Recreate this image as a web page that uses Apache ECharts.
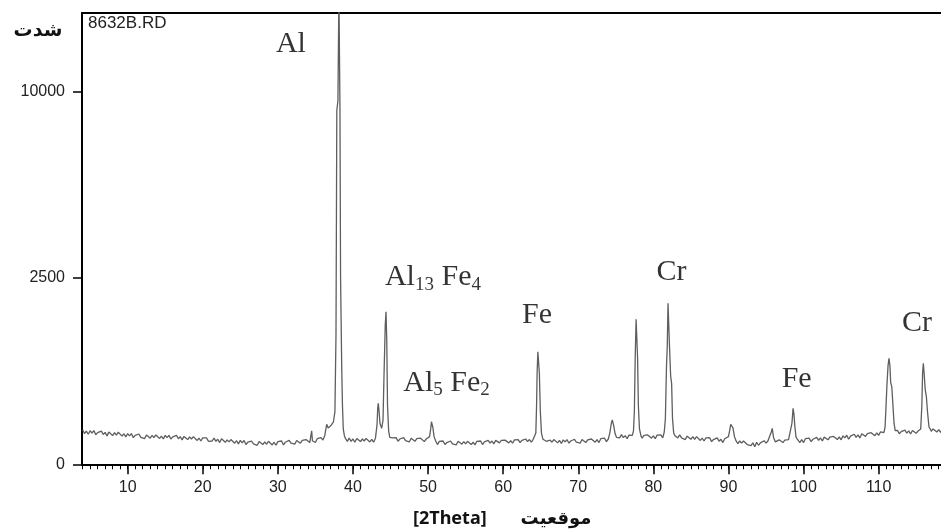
<!DOCTYPE html>
<html>
<head>
<meta charset="utf-8">
<script src="https://cdn.jsdelivr.net/npm/echarts@6/dist/echarts.min.js"></script>
<style>
html,body{margin:0;padding:0;background:#fff;}
#chart{width:941px;height:531px;}
</style>
</head>
<body>
<div id="chart"></div>
<script>
// XRD scan: [2Theta (deg), intensity (counts)]
const scan = [
[4.00,86],[4.25,68],[4.50,79],[4.75,65],[5.00,81],[5.25,70],[5.50,82],[5.75,63],
[6.00,72],[6.25,64],[6.50,79],[6.75,64],[7.00,73],[7.25,58],[7.50,75],[7.75,67],
[8.00,59],[8.25,72],[8.50,61],[8.75,74],[9.00,73],[9.25,57],[9.50,67],[9.75,54],
[10.00,68],[10.25,58],[10.50,68],[10.75,51],[11.00,60],[11.25,52],[11.50,66],[11.75,52],
[12.00,59],[12.25,47],[12.50,62],[12.75,55],[13.00,49],[13.25,60],[13.50,51],[13.75,62],
[14.00,62],[14.25,48],[14.50,57],[14.75,46],[15.00,60],[15.25,51],[15.50,60],[15.75,46],
[16.00,54],[16.25,47],[16.50,60],[16.75,47],[17.00,55],[17.25,43],[17.50,56],[17.75,50],
[18.00,44],[18.25,54],[18.50,46],[18.75,55],[19.00,54],[19.25,41],[19.50,49],[19.75,39],
[20.00,50],[20.25,43],[20.50,50],[20.75,38],[21.00,44],[21.25,39],[21.50,49],[21.75,38],
[22.00,45],[22.25,34],[22.50,47],[22.75,40],[23.00,35],[23.25,43],[23.50,36],[23.75,44],
[24.00,44],[24.25,32],[24.50,40],[24.75,30],[25.00,41],[25.25,33],[25.50,41],[25.75,28],
[26.00,35],[26.25,30],[26.50,39],[26.75,30],[27.00,36],[27.25,26],[27.50,37],[27.75,32],
[28.00,28],[28.25,36],[28.50,29],[28.75,38],[29.00,38],[29.25,27],[29.50,35],[29.75,26],
[30.00,37],[30.25,31],[30.50,39],[30.75,27],[31.00,35],[31.25,30],[31.50,41],[31.75,32],
[32.00,38],[32.25,29],[32.50,41],[32.75,36],[33.00,32],[33.25,41],[33.50,35],[33.75,44],
[34.00,46],[34.25,34],[34.50,81],[34.60,40],[34.75,43],[35.00,34],[35.25,47],[35.50,41],
[35.75,51],[36.00,42],[36.25,60],[36.50,115],[36.70,95],[36.85,85],[37.10,110],[37.40,130],
[37.60,200],[37.74,1200],[37.85,9000],[38.00,9500],[38.13,16000],[38.20,16000],[38.27,9000],[38.35,2500],
[38.50,700],[38.60,250],[38.71,90],[38.85,60],[39.00,48],[39.25,38],[39.50,49],[39.75,38],
[40.00,46],[40.25,35],[40.50,48],[40.75,42],[41.00,37],[41.25,46],[41.50,39],[41.75,48],
[42.00,49],[42.25,36],[42.50,45],[42.75,35],[43.00,50],[43.20,110],[43.30,230],[43.37,267],
[43.45,220],[43.60,120],[43.82,93],[44.00,140],[44.13,552],[44.30,1400],[44.40,1673],[44.50,1100],
[44.60,250],[44.75,80],[44.90,52],[45.00,48],[45.25,50],[45.50,43],[45.75,51],[46.00,38],
[46.25,46],[46.50,40],[46.75,51],[47.00,40],[47.25,47],[47.50,36],[47.75,49],[48.00,43],
[48.25,38],[48.50,47],[48.75,40],[49.00,49],[49.25,50],[49.50,37],[49.75,46],[50.00,46],
[50.20,55],[50.35,90],[50.45,130],[50.52,141],[50.65,95],[50.80,55],[51.00,40],[51.25,28],
[51.50,38],[51.75,32],[52.00,39],[52.25,28],[52.50,34],[52.75,29],[53.00,39],[53.25,30],
[53.50,36],[53.75,27],[54.00,38],[54.25,33],[54.50,29],[54.75,37],[55.00,30],[55.25,38],
[55.50,39],[55.75,28],[56.00,35],[56.25,27],[56.50,38],[56.75,32],[57.00,39],[57.25,28],
[57.50,36],[57.75,31],[58.00,41],[58.25,32],[58.50,39],[58.75,30],[59.00,41],[59.25,36],
[59.50,33],[59.75,41],[60.00,35],[60.25,42],[60.50,44],[60.75,33],[61.00,40],[61.25,32],
[61.50,43],[61.75,37],[62.00,44],[62.25,34],[62.50,41],[62.75,36],[63.00,46],[63.25,37],
[63.50,44],[63.75,35],[64.00,45],[64.20,48],[64.35,70],[64.45,250],[64.52,595],[64.62,911],
[64.72,911],[64.82,595],[64.95,200],[65.10,70],[65.30,45],[65.50,43],[65.75,38],[66.00,33],
[66.25,42],[66.50,35],[66.75,44],[67.00,45],[67.25,33],[67.50,41],[67.75,31],[68.00,43],
[68.25,36],[68.50,44],[68.75,32],[69.00,39],[69.25,34],[69.50,45],[69.75,35],[70.00,41],
[70.25,32],[70.50,44],[70.75,39],[71.00,34],[71.25,43],[71.50,37],[71.75,46],[72.00,47],
[72.25,35],[72.50,44],[72.75,34],[73.00,47],[73.25,40],[73.50,49],[73.75,37],[74.00,46],
[74.20,70],[74.40,120],[74.53,141],[74.70,112],[74.90,68],[75.10,52],[75.25,57],[75.50,50],
[75.75,63],[76.00,51],[76.25,59],[76.50,47],[76.75,61],[77.00,55],[77.20,60],[77.35,80],
[77.47,200],[77.58,807],[77.70,1511],[77.80,1511],[77.90,807],[78.00,250],[78.15,90],[78.35,58],
[78.50,49],[78.75,60],[79.00,52],[79.25,62],[79.50,63],[79.75,49],[80.00,58],[80.25,47],
[80.50,61],[80.75,53],[81.00,62],[81.25,50],[81.45,75],[81.60,150],[81.75,700],[81.85,994],
[81.95,1863],[82.05,1863],[82.15,994],[82.30,560],[82.43,471],[82.55,150],[82.70,72],[82.85,60],
[83.00,57],[83.25,50],[83.50,62],[83.75,50],[84.00,56],[84.25,44],[84.50,57],[84.75,51],
[85.00,45],[85.25,55],[85.50,45],[85.75,55],[86.00,55],[86.25,41],[86.50,49],[86.75,39],
[87.00,50],[87.25,43],[87.50,51],[87.75,37],[88.00,44],[88.25,38],[88.50,50],[88.75,38],
[89.00,45],[89.25,34],[89.50,47],[89.75,45],[90.00,55],[90.15,80],[90.30,115],[90.42,121],
[90.60,95],[90.80,55],[91.00,40],[91.25,31],[91.50,39],[91.75,32],[92.00,39],[92.25,39],
[92.50,28],[92.75,33],[93.00,25],[93.25,33],[93.50,22],[93.75,35],[94.00,26],[94.25,33],
[94.50,29],[94.75,40],[95.00,32],[95.25,39],[95.50,40],[95.70,75],[95.83,93],[96.00,52],
[96.25,36],[96.50,32],[96.75,43],[97.00,38],[97.25,34],[97.50,42],[97.75,36],[98.00,44],
[98.25,48],[98.45,120],[98.60,225],[98.70,190],[98.85,100],[99.00,52],[99.25,47],[99.50,34],
[99.75,44],[100.00,34],[100.25,47],[100.50,40],[100.75,49],[101.00,37],[101.25,45],[101.50,40],
[101.75,52],[102.00,41],[102.25,50],[102.50,39],[102.75,53],[103.00,47],[103.25,43],[103.50,53],
[103.75,46],[104.00,56],[104.25,58],[104.50,44],[104.75,54],[105.00,43],[105.25,58],[105.50,50],
[105.75,61],[106.00,45],[106.25,57],[106.50,50],[106.75,65],[107.00,52],[107.25,62],[107.50,50],
[107.75,67],[108.00,61],[108.25,56],[108.50,68],[108.75,61],[109.00,72],[109.25,75],[109.50,59],
[109.75,71],[110.00,60],[110.25,76],[110.50,68],[110.70,72],[110.85,100],[110.95,200],[111.10,450],
[111.25,700],[111.37,807],[111.50,700],[111.60,480],[111.75,430],[111.90,250],[112.05,120],[112.20,82],
[112.50,83],[112.75,67],[113.00,77],[113.25,70],[113.50,84],[113.75,70],[114.00,80],[114.25,66],
[114.50,82],[114.75,75],[115.00,69],[115.25,80],[115.45,76],[115.60,90],[115.75,250],[115.85,600],
[115.95,733],[116.05,600],[116.20,400],[116.35,330],[116.50,200],[116.70,100],[116.90,88],[117.00,78],
[117.25,90],[117.50,91],[117.75,75],[118.00,86],[118.25,73],[118.50,88]
];

// phase labels: position in [2Theta, counts] and text
const phasePos = [[31.74,12700],[50.65,2508],[52.45,475],[64.50,1608],[82.41,2658],[99.08,517],[115.10,1429]];
const phaseText = ['{n|Al}','{n|Al}{s|13}{n| Fe}{s|4}','{n|Al}{s|5}{n| Fe}{s|2}','{n|Fe}','{n|Cr}','{n|Fe}','{n|Cr}'];

const xMajorTicks = [10,20,30,40,50,60,70,80,90,100,110];
const yTickLabels = [0,2500,10000];

const xMin = 3.92, xMax = 118.3;
const minorTicks = [];
for (let d = 4; d <= 118; d++) minorTicks.push(d);

const sq = v => Math.sqrt(v);

const chart = echarts.init(document.getElementById('chart'), null, {renderer:'canvas'});
chart.setOption({
  animation:false,
  backgroundColor:'#fff',
  grid:{left:82, top:13, right:0, bottom:66.7, show:false},
  xAxis:[
    {type:'value', min:xMin, max:xMax, position:'bottom',
     axisLine:{show:true, lineStyle:{color:'#000', width:2}},
     axisTick:{show:true, customValues:xMajorTicks, length:10, lineStyle:{color:'#000', width:1.5}},
     axisLabel:{show:true, customValues:xMajorTicks, margin:15, color:'#222', fontFamily:'Liberation Sans, Arial', fontSize:16},
     splitLine:{show:false}},
    {type:'value', min:xMin, max:xMax, position:'bottom',
     axisLine:{show:false},
     axisTick:{show:true, customValues:minorTicks, length:5, lineStyle:{color:'#000', width:1}},
     axisLabel:{show:false}, splitLine:{show:false}},
    {type:'value', min:xMin, max:xMax, position:'top',
     axisLine:{show:true, lineStyle:{color:'#000', width:2}},
     axisTick:{show:false}, axisLabel:{show:false}, splitLine:{show:false}}
  ],
  yAxis:{type:'value', min:0, max:121,
    axisLine:{show:true, lineStyle:{color:'#000', width:2}},
    axisTick:{show:true, customValues:yTickLabels.map(sq), length:9, lineStyle:{color:'#000', width:1.5}},
    axisLabel:{show:true, customValues:yTickLabels.map(sq), margin:17, color:'#222', fontFamily:'Liberation Sans, Arial', fontSize:16,
      formatter: v => String(Math.round(v*v))},
    splitLine:{show:false}},
  series:[
    {type:'line', xAxisIndex:0, data:scan.map(p => [p[0], sq(p[1])]),
     showSymbol:false, symbol:'none', lineStyle:{color:'#5e5e5e', width:1.3}, clip:true, z:3},
    {type:'scatter', xAxisIndex:0, symbolSize:1, itemStyle:{color:'rgba(0,0,0,0)'},
     data:phasePos.map(p => [p[0], sq(p[1])]),
     label:{show:true, position:'inside',
       formatter: params => phaseText[params.dataIndex],
       rich:{
         n:{fontFamily:'Liberation Serif, Times New Roman', fontSize:30, lineHeight:34, color:'#000'},
         s:{fontFamily:'Liberation Serif, Times New Roman', fontSize:19, lineHeight:14, verticalAlign:'bottom', color:'#000'}
       }},
     z:5}
  ],
  graphic:[
    {type:'text', left:88, top:15, style:{text:'8632B.RD', font:'17px "Liberation Sans", Arial', fill:'#222'}},
    {type:'text', x:38, y:31, style:{text:'شدت', font:'bold 19px "DejaVu Sans"', fill:'#111', align:'center', verticalAlign:'middle'}},
    {type:'text', x:413, y:519, style:{text:'[2Theta]', font:'bold 18px "Noto Sans", "DejaVu Sans"', fill:'#111', align:'left', verticalAlign:'middle'}},
    {type:'text', x:556, y:519, style:{text:'موقعيت', font:'bold 18px "DejaVu Sans"', fill:'#111', align:'center', verticalAlign:'middle'}}
  ]
});
</script>
</body>
</html>
